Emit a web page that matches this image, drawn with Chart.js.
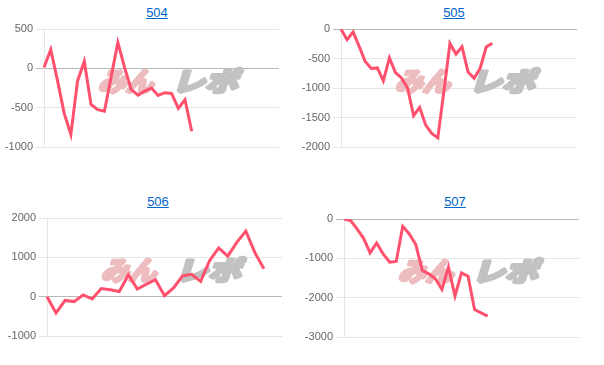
<!DOCTYPE html>
<html>
<head>
<meta charset="utf-8">
<script src="https://cdn.jsdelivr.net/npm/chart.js@4"></script>
<style>
  body { margin: 0; background: #fff; width: 604px; height: 365px; position: relative; overflow: hidden; }
  .ttl { position: absolute; width: 80px; text-align: center; font: 13px Arial, "Liberation Sans", sans-serif; line-height: 16px; }
  .ttl a { color: #0066cc; text-decoration: underline; }
  canvas { position: absolute; }
</style>
</head>
<body>
<div class="ttl" style="left:117px;top:5px"><a href="#">504</a></div>
<div class="ttl" style="left:414px;top:5px"><a href="#">505</a></div>
<div class="ttl" style="left:118px;top:194px"><a href="#">506</a></div>
<div class="ttl" style="left:415px;top:194px"><a href="#">507</a></div>

<canvas id="c504" width="275" height="138" style="left:4px;top:19px"></canvas>
<canvas id="c505" width="276" height="138" style="left:301px;top:19px"></canvas>
<canvas id="c506" width="275" height="138" style="left:7px;top:208px"></canvas>
<canvas id="c507" width="275" height="138" style="left:304px;top:209px"></canvas>

<script>
// x categories (days), each chart uses the first n of them
var days = ['1','2','3','4','5','6','7','8','9','10','11','12','13','14','15','16','17','18','19','20',
            '21','22','23','24','25','26','27','28','29','30','31','32','33','34','35','36','37','38','39','40']

// 差枚 per machine
var data504 = [10, 240, -150, -570, -840, -160, 90, -460, -525, -545, -110, 330, 10, -270, -340, -290, -250, -345, -310, -320, -510, -400, -800]
var data505 = [0, -180, -50, -295, -550, -670, -660, -880, -490, -740, -830, -1000, -1470, -1330, -1630, -1770, -1845, -1060, -245, -425, -300, -730, -835, -665, -305, -240]
var data506 = [0, -415, -95, -125, 45, -60, 205, 175, 130, 550, 195, 315, 430, 25, 220, 530, 570, 390, 920, 1240, 1030, 1380, 1665, 1120, 710]
var data507 = [0, -40, -250, -490, -860, -610, -890, -1100, -1080, -185, -380, -650, -1310, -1395, -1520, -1790, -1225, -1960, -1370, -1455, -2300, -2385, -2470]

var count504 = 36, count505 = 40, count506 = 27, count507 = 37
var yRange504 = [-1000, 500, 500]
var yRange505 = [-2000, 0, 500]
var yRange506 = [-1000, 2000, 1000]
var yRange507 = [-3000, 0, 1000]

Chart.defaults.font.family = 'Arial, "Liberation Sans", sans-serif'
Chart.defaults.font.size = 11
Chart.defaults.color = '#666'

function drawPart(ctx, text, x, y, w, color) {
  var m = ctx.measureText(text).width
  ctx.save()
  ctx.translate(x, y)
  ctx.transform(w / m, 0, -0.3, 1, 0, 0)
  ctx.fillStyle = color
  ctx.strokeStyle = color
  ctx.lineWidth = 3.5
  ctx.lineJoin = 'round'
  ctx.strokeText(text, 0, 0)
  ctx.fillText(text, 0, 0)
  ctx.restore()
}

// site logo behind the line
var watermark = {
  id: 'watermark',
  beforeDatasetsDraw: function (chart) {
    var ctx = chart.ctx, a = chart.chartArea
    ctx.save()
    ctx.font = 'bold 26px "Noto Sans CJK JP"'
    ctx.textBaseline = 'middle'
    drawPart(ctx, 'みん', a.left + 57, a.top + 52, 55, '#ecbcbf')
    drawPart(ctx, 'レポ', a.left + 131, a.top + 52, 66, '#c2c2c2')
    ctx.restore()
  }
}

function makeChart(id, values, n, yr) {
  var ctx = document.getElementById(id).getContext('2d')
  return new Chart(ctx, {
    type: 'line',
    data: {
      labels: days.slice(0, n),
      datasets: [{
        data: values,
        borderColor: 'rgb(255, 80, 110)',
        backgroundColor: 'rgb(255, 80, 110)',
        borderWidth: 3,
        pointRadius: 0,
        tension: 0,
        fill: false
      }]
    },
    options: {
      responsive: false,
      animation: false,
      layout: { padding: { top: 10, bottom: 10, left: 0, right: 0 } },
      plugins: { legend: { display: false }, tooltip: { enabled: false } },
      scales: {
        x: { display: false },
        y: {
          min: yr[0], max: yr[1],
          ticks: { stepSize: yr[2], callback: function (v) { return String(v) } },
          afterFit: function (s) { s.width = 40 },
          border: { color: 'rgba(0,0,0,0.1)' },
          grid: {
            color: function (c) { return c.tick && c.tick.value === 0 ? 'rgba(0,0,0,0.28)' : 'rgba(0,0,0,0.1)' }
          }
        }
      }
    },
    plugins: [watermark]
  })
}

makeChart('c504', data504, count504, yRange504)
makeChart('c505', data505, count505, yRange505)
makeChart('c506', data506, count506, yRange506)
makeChart('c507', data507, count507, yRange507)
</script>
</body>
</html>
